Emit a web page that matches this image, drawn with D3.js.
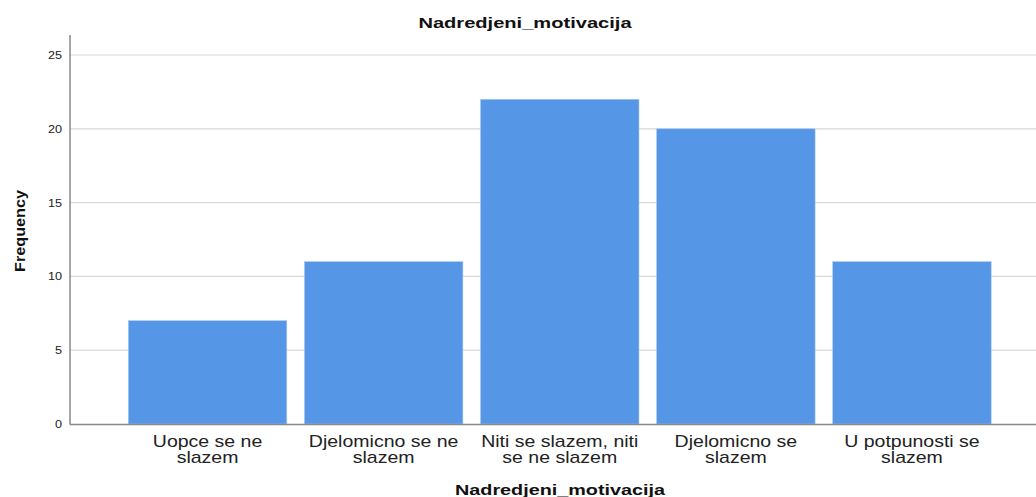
<!DOCTYPE html>
<html><head><meta charset="utf-8">
<script src="https://cdn.jsdelivr.net/npm/d3@7"></script>
<style>body{margin:0;background:#fff}svg{display:block}</style>
</head><body>
<script>
const categories = [["Uopce se ne","slazem"],["Djelomicno se ne","slazem"],["Niti se slazem, niti","se ne slazem"],["Djelomicno se","slazem"],["U potpunosti se","slazem"]];
const values = [7, 11, 22, 20, 11];
const yTicks = [0, 5, 10, 15, 20, 25];

const W = 1036, H = 497;
const svg = d3.select("body").append("svg").attr("width", W).attr("height", H);
const font = "Liberation Sans, Arial, sans-serif";

const y = d3.scaleLinear().domain([0, 25]).range([424, 55]);
const x = d3.scaleBand().domain(d3.range(values.length)).range([119.5, 1000]).paddingInner(0.1).paddingOuter(0.05);

// gridlines
svg.append("g").selectAll("line").data(yTicks.filter(d => d > 0)).join("line")
  .attr("x1", 70).attr("x2", W).attr("y1", d => y(d)).attr("y2", d => y(d))
  .attr("stroke", "#d9d9d9").attr("stroke-width", 1.2);

// bars
svg.append("g").selectAll("rect").data(values).join("rect")
  .attr("x", (d, i) => x(i)).attr("width", x.bandwidth())
  .attr("y", d => y(d)).attr("height", d => y(0) - y(d))
  .attr("fill", "#5596e6").attr("stroke", "#a9c9f0").attr("stroke-width", 0.6);

// axes lines
svg.append("line").attr("x1", 70).attr("x2", 70).attr("y1", 35).attr("y2", 424.5)
  .attr("stroke", "#888").attr("stroke-width", 1.5);
svg.append("line").attr("x1", 70).attr("x2", W).attr("y1", 424.5).attr("y2", 424.5)
  .attr("stroke", "#888").attr("stroke-width", 1.5);

// y tick labels
const yAxis = d3.axisLeft(y).tickValues(yTicks).tickSize(0).tickPadding(0);
const ya = svg.append("g").attr("transform", "translate(62,0)").call(yAxis);
ya.select(".domain").remove();
ya.selectAll("text").attr("font-family", font).attr("font-size", 11).attr("fill", "#222")
  .attr("transform", "scale(1.15,1)").attr("x", 0);

// x labels
const xl = svg.append("g");
categories.forEach((c, i) => {
  const cx = x(i) + x.bandwidth() / 2;
  const t = xl.append("text").attr("transform", `translate(${cx},447) scale(1.22,1)`)
    .attr("text-anchor", "middle").attr("font-family", font).attr("font-size", 16).attr("fill", "#222");
  c.forEach((line, j) => t.append("tspan").attr("x", 0).attr("dy", j === 0 ? 0 : 16.5).text(line));
});

// titles
svg.append("text").attr("transform", "translate(525,28) scale(1.34,1)").attr("text-anchor", "middle")
  .attr("font-family", font).attr("font-size", 15).attr("font-weight", "bold").attr("fill", "#111")
  .text("Nadredjeni_motivacija");
svg.append("text").attr("transform", "translate(560,495) scale(1.32,1)").attr("text-anchor", "middle")
  .attr("font-family", font).attr("font-size", 15).attr("font-weight", "bold").attr("fill", "#111")
  .text("Nadredjeni_motivacija");
svg.append("text").attr("transform", "translate(25,231) rotate(-90) scale(1.08,1)").attr("text-anchor", "middle")
  .attr("font-family", font).attr("font-size", 15).attr("font-weight", "bold").attr("fill", "#111")
  .text("Frequency");
</script>
</body></html>
